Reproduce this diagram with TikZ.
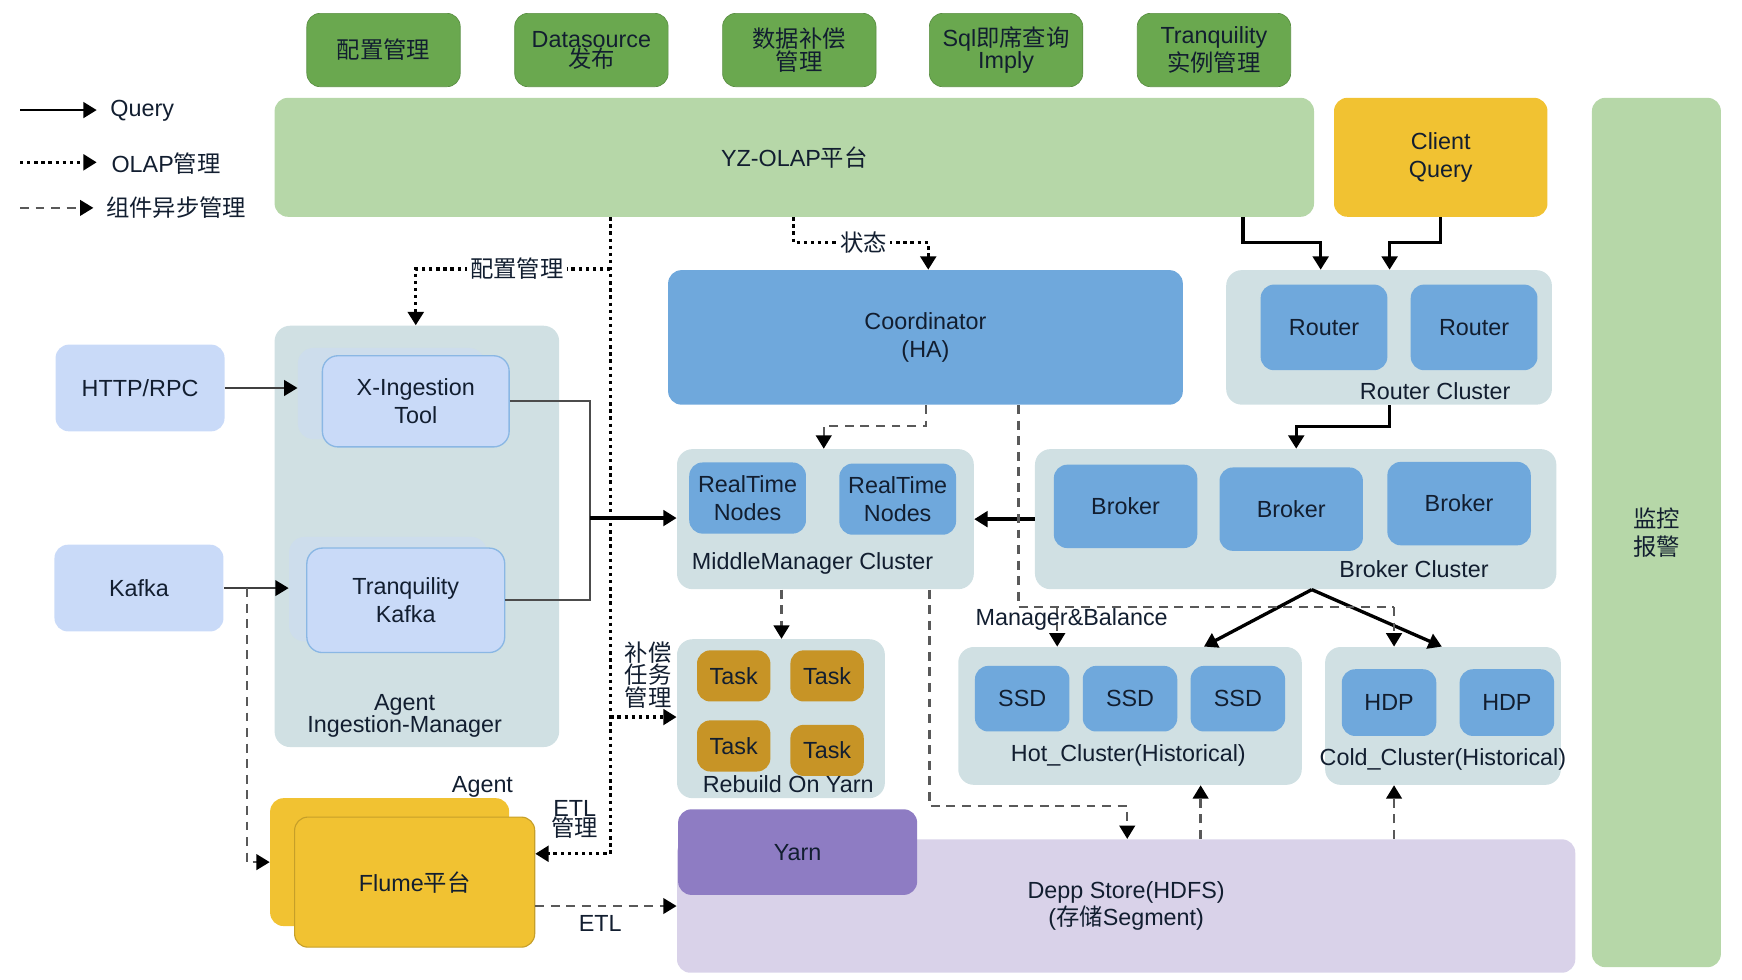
\documentclass[tikz,border=0pt]{standalone}
\usepackage{fontspec}
\setmainfont{Liberation Sans}
\newfontfamily\cjk{Noto Sans CJK SC}
\usetikzlibrary{arrows.meta}

\definecolor{dkgreen}{RGB}{106,168,79}
\definecolor{ltgreen}{RGB}{182,215,168}
\definecolor{gold}{RGB}{241,194,50}
\definecolor{clgray}{RGB}{208,224,227}
\definecolor{nodeblue}{RGB}{111,168,220}
\definecolor{paleblue}{RGB}{201,218,248}
\definecolor{taskbrown}{RGB}{199,148,38}
\definecolor{yarnpurple}{RGB}{142,124,195}
\definecolor{ltpurple}{RGB}{217,210,233}
\definecolor{txt}{RGB}{18,30,48}

\newcommand{\zhtxt}[1]{{\cjk #1}}

\tikzset{every picture/.style={line width=0.75pt}}
\tikzset{
  sz/.style 2 args={minimum width=#1pt, minimum height=#2pt},
  base/.style={font=\fontsize{21}{25}\selectfont, text=txt, align=center, inner sep=0pt},
  tight/.style={font=\fontsize{21}{18}\selectfont},
  lbl/.style={base},
  topbox/.style={base, fill=dkgreen, draw=dkgreen!85!black, line width=0.6pt, rounded corners=12pt, sz={138}{66}},
  platbar/.style={base, fill=ltgreen, rounded corners=12pt},
  cluster/.style={fill=clgray, rounded corners=14pt, inner sep=0pt},
  blubox/.style={base, fill=nodeblue, rounded corners=12pt},
  palebox/.style={base, fill=paleblue, rounded corners=12pt},
  ingback/.style={fill=paleblue!45!clgray, rounded corners=14pt},
  ingbox/.style={base, fill=paleblue, draw=nodeblue!70!paleblue, line width=1.2pt, rounded corners=14pt},
  taskbox/.style={base, fill=taskbrown, rounded corners=12pt, sz={66}{46}},
  flumebox/.style={base, fill=gold, rounded corners=12pt},
  tip/.style={-{Triangle[length=12pt,width=14pt,color=black]}},
  query/.style={line width=3pt, tip},
  feed/.style={line width=2pt, draw=black!75, tip},
  wire/.style={line width=2pt, draw=black!70},
  olapln/.style={line width=3pt, dash pattern=on 3pt off 3.4pt, tip},
  asyncline/.style={line width=2.2pt, draw=black!65, dash pattern=on 8pt off 6pt},
  async/.style={asyncline, tip},
}

\begin{document}
\begin{tikzpicture}[x=1pt,y=1pt,yscale=-1,xscale=1]
	\useasboundingbox (0,0) rectangle (1567,881.5);

	%Legend
	\coordinate (lgq0) at (18,99); \coordinate (lgq1) at (87,99);
	\draw [query, line width=2.5pt] (lgq0) -- (lgq1) ;
	\node [lbl, anchor=west] (lgqtxt) at (99,100) {Query};
	\coordinate (lgo0) at (18,146); \coordinate (lgo1) at (87,146);
	\draw [olapln] (lgo0) -- (lgo1) ;
	\node [lbl, anchor=west] (lgotxt) at (100,147) {OLAP\zhtxt{管理}};
	\coordinate (lga0) at (18,187); \coordinate (lga1) at (84,187);
	\draw [async] (lga0) -- (lga1) ;
	\node [lbl, anchor=west] (lgatxt) at (95,187) {\zhtxt{组件异步管理}};

	%Shape: Top modules
	\node [topbox] (cfg) at (345,45) {\zhtxt{配置管理}};
	\node [topbox, tight] (dsrc) at (532,45) {Datasource\\\zhtxt{发布}};
	\node [topbox, tight] (comp) at (719,45) {\zhtxt{数据补偿}\\\zhtxt{管理}};
	\node [topbox, tight] (sql) at (905,45) {Sql\zhtxt{即席查询}\\Imply};
	\node [topbox] (tqm) at (1092,45) {Tranquility\\\zhtxt{实例管理}};

	%Shape: Platform bars
	\node [platbar, sz={935}{107}] (olap) at (714.5,141.5) {YZ-OLAP\zhtxt{平台}};
	\node [platbar, fill=gold, sz={192}{107}] (client) at (1296,141.5) {Client\\Query};
	\node [platbar, sz={116}{782}] (alarm) at (1490,479) {\zhtxt{监控}\\\zhtxt{报警}};

	%Shape: Coordinator and Router Cluster
	\node [blubox, sz={463}{121}] (coord) at (832.5,303.5) {Coordinator\\(HA)};
	\node [cluster, sz={293}{121}] (rcl) at (1249.5,303.5) {};
	\node [blubox, sz={114}{77}] (rt1) at (1191,294.5) {Router};
	\node [blubox, sz={114}{77}] (rt2) at (1326,294.5) {Router};
	% Text Node
	\node [lbl] (rcltxt) at (1291,352) {Router Cluster};

	%Shape: Broker Cluster
	\node [cluster, sz={469}{126}] (bcl) at (1165.5,467) {};
	\node [blubox, sz={129}{75}] (bk1) at (1012.5,455.5) {Broker};
	\node [blubox, sz={129}{75}] (bk2) at (1161.5,458) {Broker};
	\node [blubox, sz={129}{75}] (bk3) at (1312.5,453) {Broker};
	% Text Node
	\node [lbl] (bcltxt) at (1272,512) {Broker Cluster};

	%Shape: MiddleManager Cluster
	\node [cluster, sz={267}{126}] (mm) at (742.5,467) {};
	\node [blubox, sz={105}{64}] (rtn1) at (672.5,448) {RealTime\\Nodes};
	\node [blubox, sz={105}{64}] (rtn2) at (807.5,449) {RealTime\\Nodes};
	% Text Node
	\node [lbl] (mmtxt) at (731,507) {MiddleManager Cluster};

	%Shape: Agent Ingestion-Manager
	\node [cluster, sz={256}{379}] (agent) at (375,482.5) {};
	\node [ingback, sz={168}{82}] (xingb) at (352,354) {};
	\node [ingbox, sz={168}{82}] (xing) at (374,361) {X-Ingestion\\Tool};
	\node [ingback, sz={178}{94}] (tqkb) at (349,530) {};
	\node [ingbox, sz={178}{94}] (tqk) at (365,540) {Tranquility\\Kafka};
	% Text Node
	\node [lbl, tight] (agtxt) at (364,644) {Agent\\Ingestion-Manager};

	%Shape: Sources
	\node [palebox, sz={152}{78}] (http) at (126,349) {HTTP/RPC};
	\node [palebox, sz={152}{78}] (kafka) at (125,529) {Kafka};

	%Shape: Flume
	\node [flumebox, sz={215}{115}] (flumeb) at (350.5,775.5) {};
	\node [flumebox, draw=gold!82!black, line width=1pt, sz={216}{117}] (flume) at (373,793.5) {Flume\zhtxt{平台}};
	% Text Node
	\node [lbl] (flumetxt) at (434,708) {Agent};

	%Shape: Rebuild On Yarn
	\node [cluster, sz={187}{143}] (rby) at (702.5,646.5) {};
	\node [taskbox] (task1) at (660,608) {Task};
	\node [taskbox] (task2) at (744,608) {Task};
	\node [taskbox] (task3) at (660,671) {Task};
	\node [taskbox] (task4) at (744,675) {Task};
	% Text Node
	\node [lbl] (rbytxt) at (709,705) {Rebuild On Yarn};

	%Shape: Deep Store and Yarn
	\node [platbar, fill=ltpurple, sz={808}{120}] (deep) at (1013,815) {Depp Store(HDFS)\\(\zhtxt{存储}Segment)};
	\node [blubox, fill=yarnpurple, sz={215}{77}] (yarn) at (717.5,766.5) {Yarn};

	%Shape: Historical clusters
	\node [cluster, sz={309}{124}] (hot) at (1016.5,644) {};
	\node [blubox, sz={85}{59}] (ssd1) at (919.5,628.5) {SSD};
	\node [blubox, sz={85}{59}] (ssd2) at (1016.5,628.5) {SSD};
	\node [blubox, sz={85}{59}] (ssd3) at (1113.5,628.5) {SSD};
	% Text Node
	\node [lbl] (hottxt) at (1015,680) {Hot\_Cluster(Historical)};
	\node [cluster, sz={212}{124}] (cold) at (1298,644) {};
	\node [blubox, sz={85}{60}] (hdp1) at (1249.5,632) {HDP};
	\node [blubox, sz={85}{60}] (hdp2) at (1355.5,632) {HDP};
	% Text Node
	\node [lbl] (coldtxt) at (1298,683) {Cold\_Cluster(Historical)};

	%Straight Lines: Query
	\draw [query] (olap.south -| 1118,0) -- ++(0,23) -| (rcl.north -| 1188,0) ;
	\draw [query] (client.south) -- ++(0,23) -| (rcl.north -| 1250,0) ;
	\draw [query] (rcl.south -| 1250,0) -- ++(0,19) -| (bcl.north -| 1166,0) ;
	\draw [query] (bcl.west) -- (mm.east) ;
	\draw [query] (bcl.south -| 1180,0) -- (hot.north -| 1083,0) ;
	\draw [query] (bcl.south -| 1180,0) -- (cold.north -| 1297,0) ;
	\draw [feed] (http.east) -- (xingb.west |- http.east) ;
	\draw [feed] (kafka.east) -- (tqkb.west |- kafka.east) ;
	\coordinate (jn) at (531,466);
	\draw [wire] (xing.east) -| (jn) |- (tqk.east) ;
	\draw [query] (jn) -- (mm.west |- jn) ;

	%Straight Lines: OLAP
	\draw [olapln] (olap.south -| 549,0) |- (flume.east |- 0,768) ;
	\coordinate (cmptap) at (549,645);
	\draw [olapln] (cmptap) -- (rby.west |- cmptap) ;
	\coordinate (cfgtap) at (549,242);
	\draw [olapln] (cfgtap) -| (agent.north -| 374,0) ;
	\draw [olapln] (olap.south -| 714,0) -- ++(0,23) -| (coord.north -| 835,0) ;

	%Straight Lines: async
	\draw [async] (kafka.east -| 222,0) |- (flumeb.west) ;
	\draw [async] (flume.east |- deep.west) -- (deep.west) ;
	\draw [async] (coord.south -| 833,0) -- ++(0,19) -| (mm.north -| 741,0) ;
	\coordinate (mbR) at (1254,546); \coordinate (mbL) at (951,546);
	\draw [asyncline] (coord.south -| 916,0) |- (mbR) ;
	\draw [async] (mbR) -- (cold.north -| mbR) ;
	\draw [async] (mbL) -- (hot.north -| mbL) ;
	\draw [async] (mm.south -| 703,0) -- (rby.north -| 703,0) ;
	\draw [async] (mm.south -| 836,0) -- (836,725) -| (deep.north -| 1014,0) ;
	\draw [async] (deep.north -| 1080,0) -- (hot.south -| 1080,0) ;
	\draw [async] (deep.north -| 1254,0) -- (cold.south -| 1254,0) ;

	% Text Node
	\node [lbl, fill=white, inner xsep=3pt] (cfgtxt) at (465,242) {\zhtxt{配置管理}};
	% Text Node
	\node [lbl, fill=white, inner xsep=3pt] (sttxt) at (777,218) {\zhtxt{状态}};
	% Text Node
	\node [lbl] (mbtxt) at (964,557) {Manager\&Balance};
	% Text Node
	\node [lbl] (etltxt) at (540,831) {ETL};
	% Text Node
	\node [lbl, tight] (etlmtxt) at (517,737) {ETL\\\zhtxt{管理}};
	% Text Node
	\node [lbl, tight] (cmptxt) at (583,607) {\zhtxt{补偿}\\\zhtxt{任务}\\\zhtxt{管理}};

\end{tikzpicture}
\end{document}
